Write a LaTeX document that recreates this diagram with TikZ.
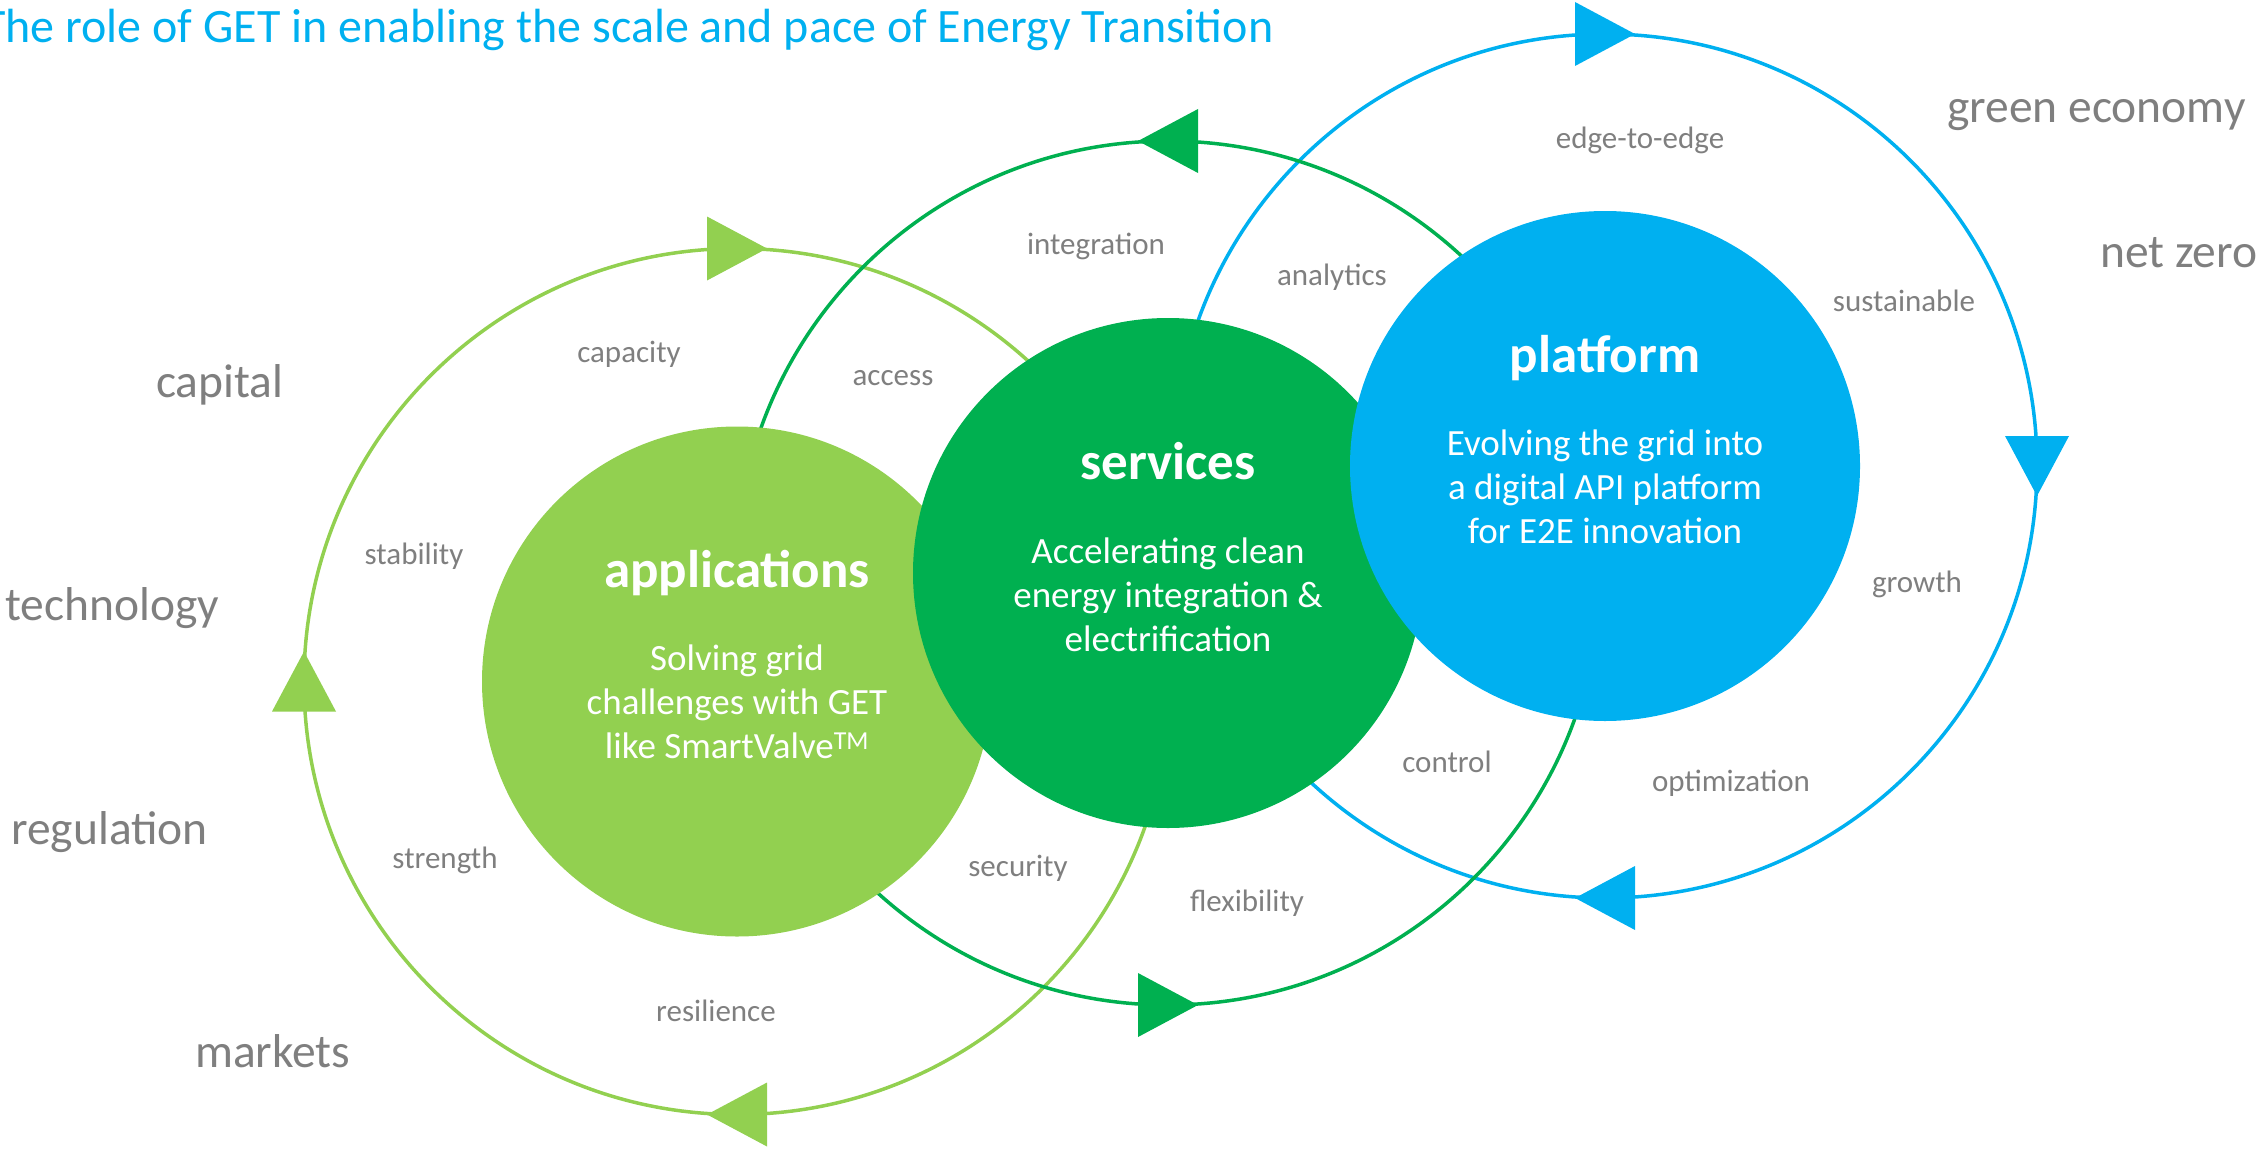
\documentclass[tikz,border=0pt]{standalone}
\usepackage{fontspec}
\setmainfont{Carlito}
\usetikzlibrary{calc}
\definecolor{lgreen}{HTML}{92D050}
\definecolor{dgreen}{HTML}{00B050}
\definecolor{sky}{HTML}{00B0F0}
\definecolor{txtgray}{HTML}{7F7F7F}
\tikzset{
  ringtip/.pic={\fill (-30,-32) -- (30,0) -- (-30,32) -- cycle;},
  ring/.style={line width=3.5pt},
  disc/.style={circle, minimum size=510pt, inner sep=0pt},
  word/.style={text=txtgray, font=\fontsize{31}{37}\selectfont, anchor=base, inner sep=0pt},
  driver/.style={text=txtgray, font=\fontsize{47.5}{57}\selectfont, anchor=base west, inner sep=0pt},
  head/.style={text=white, font=\bfseries\fontsize{53}{64}\selectfont, anchor=base, inner sep=0pt},
  body/.style={text=white, font=\fontsize{37}{44}\selectfont, anchor=base, inner sep=0pt},
}
\begin{document}
\begin{tikzpicture}[x=1pt,y=-1pt]
\useasboundingbox (0,0) rectangle (2267,1153);

% centres of the three cycles
\coordinate (appc) at (737,681.5);
\coordinate (svcc) at (1168,573);
\coordinate (platc) at (1605,466);

% platform cycle (clockwise)
\draw[ring, sky] (platc) circle[radius=432pt];
\pic[sky] at ($(platc)+(0,-432)$) {ringtip};
\pic[sky, rotate=-90] at ($(platc)+(432,0)$) {ringtip};
\pic[sky, rotate=180] at ($(platc)+(0,432)$) {ringtip};

% applications cycle (clockwise)
\draw[ring, lgreen] (appc) circle[radius=433pt];
\pic[lgreen] at ($(appc)+(0,-433)$) {ringtip};
\pic[lgreen, rotate=90] at ($(appc)+(-433,0)$) {ringtip};
\pic[lgreen, rotate=180] at ($(appc)+(0,433)$) {ringtip};

% services cycle (counter-clockwise)
\draw[ring, dgreen] (svcc) circle[radius=432pt];
\pic[dgreen, rotate=180] at ($(svcc)+(0,-432)$) {ringtip};
\pic[dgreen] at ($(svcc)+(0,432)$) {ringtip};

% the three discs
\node[disc, fill=lgreen] (app) at (appc) {};
\node[disc, fill=dgreen] (svc) at (svcc) {};
\node[disc, fill=sky] (plat) at (platc) {};

% disc texts
\node[head] (appH) at ($(app.center)+(0,-94)$) {applications};
\node[body] (appB1) at ($(app.center)+(0,-11)$) {Solving grid};
\node[body] (appB2) at ($(app.center)+(0,33)$) {challenges with GET};
\node[body] (appB3) at ($(app.center)+(0,77)$) {like SmartValve\textsuperscript{TM}};

\node[head] (svcH) at ($(svc.center)+(0,-94)$) {services};
\node[body] (svcB1) at ($(svc.center)+(0,-10)$) {Accelerating clean};
\node[body] (svcB2) at ($(svc.center)+(0,34)$) {energy integration \&};
\node[body] (svcB3) at ($(svc.center)+(0,78)$) {electrification};

\node[head] (platH) at ($(plat.center)+(0,-94)$) {platform};
\node[body] (platB1) at ($(plat.center)+(0,-11)$) {Evolving the grid into};
\node[body] (platB2) at ($(plat.center)+(0,33)$) {a digital API platform};
\node[body] (platB3) at ($(plat.center)+(0,77)$) {for E2E innovation};

% qualities along the cycles
\node[word] (w1) at (629,362) {capacity};
\node[word] (w2) at (893,385) {access};
\node[word] (w3) at (1096,254) {integration};
\node[word] (w4) at (1332,285) {analytics};
\node[word] (w5) at (1640,149) {edge-to-edge};
\node[word] (w6) at (1904,311) {sustainable};
\node[word] (w7) at (1917,592) {growth};
\node[word] (w8) at (1731,791) {optimization};
\node[word] (w9) at (1447,772) {control};
\node[word] (w10) at (1247,911) {flexibility};
\node[word] (w11) at (1018,876) {security};
\node[word] (w12) at (716,1021) {resilience};
\node[word] (w13) at (445,868) {strength};
\node[word] (w14) at (414,564) {stability};

% drivers and outcomes
\node[driver] (d1) at (156,397) {capital};
\node[driver] (d2) at (5,620) {technology};
\node[driver] (d3) at (11,844) {regulation};
\node[driver] (d4) at (195,1067) {markets};
\node[driver] (d5) at (1947,123) {green economy};
\node[driver] (d6) at (2100,267) {net zero};

% heading, running off the left edge
\node[anchor=base west, inner sep=0pt, text=sky, font=\fontsize{48}{58}\selectfont] (title) at (-18,43)
  {The role of GET in enabling the scale and pace of Energy Transition};
\end{tikzpicture}
\end{document}
